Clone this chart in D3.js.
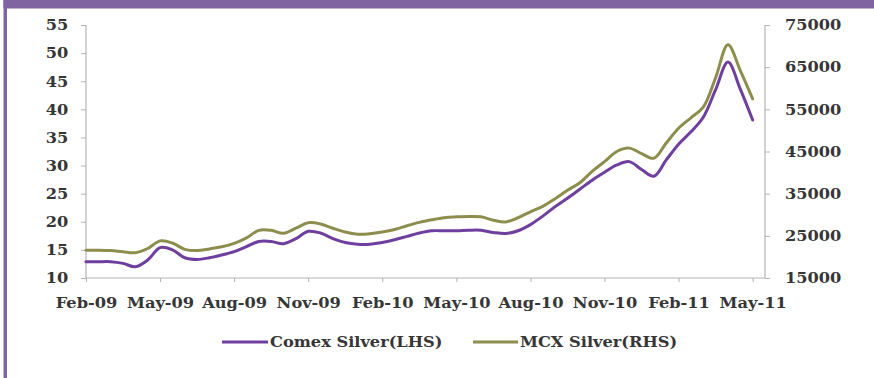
<!DOCTYPE html>
<html>
<head>
<meta charset="utf-8">
<script src="https://cdn.jsdelivr.net/npm/d3@7"></script>
<style>
  html, body { margin: 0; padding: 0; background: #ffffff; }
  svg { display: block; }
  text { font-family: "DejaVu Serif", serif; font-weight: bold; fill: #363636; }
</style>
</head>
<body>
<svg id="chart" width="874" height="378"></svg>
<script>
// Month offsets counted from Feb-09 (0 = Feb-09, 0.5 = mid-Feb-09, ...)
const months = [
  0, 0.5, 1, 1.5, 2, 2.5, 3, 3.5, 4, 4.5, 5, 5.5, 6, 6.5, 7, 7.5, 8, 8.5, 9, 9.5,
  10, 10.5, 11, 11.5, 12, 12.5, 13, 13.5, 14, 14.5, 15, 15.5, 16, 16.5, 17, 17.5,
  18, 18.5, 19, 19.5, 20, 20.5, 21, 21.5, 22, 22.5, 23, 23.5, 24, 24.5, 25, 25.5,
  26, 26.5, 27
];

// Comex Silver, USD/oz (left axis)
const comexSilver = [
  12.9, 12.9, 12.9, 12.6, 12.0, 13.2, 15.4, 15.0, 13.6, 13.3, 13.6, 14.1, 14.7, 15.6,
  16.5, 16.5, 16.1, 17.0, 18.3, 18.0, 17.0, 16.3, 16.0, 16.0, 16.3, 16.8, 17.4, 18.0,
  18.4, 18.4, 18.4, 18.5, 18.5, 18.1, 17.9, 18.4, 19.5, 21.0, 22.7, 24.2, 25.8, 27.4,
  28.8, 30.1, 30.7, 29.3, 28.1, 31.0, 33.8, 36.0, 38.6, 43.5, 48.4, 43.6, 38.1
];

// MCX Silver, INR/kg (right axis)
const mcxSilver = [
  21600, 21600, 21500, 21200, 21000, 22000, 23800, 23300, 21800, 21500, 21900, 22400,
  23200, 24500, 26300, 26300, 25600, 26800, 28100, 27800, 26800, 25900, 25400, 25500,
  25900, 26500, 27400, 28200, 28800, 29300, 29500, 29600, 29500, 28700, 28300, 29300,
  30700, 32000, 33800, 35800, 37600, 40300, 42600, 45000, 45800, 44500, 43400, 47000,
  50500, 53000, 55500, 62500, 70300, 64200, 57500
];

const tickMonths = [0, 3, 6, 9, 12, 15, 18, 21, 24, 27];
const tickLabels = ["Feb-09", "May-09", "Aug-09", "Nov-09", "Feb-10", "May-10",
                    "Aug-10", "Nov-10", "Feb-11", "May-11"];
const leftTicks = [10, 15, 20, 25, 30, 35, 40, 45, 50, 55];
const rightTicks = [15000, 25000, 35000, 45000, 55000, 65000, 75000];

const seriesNames = ["Comex Silver(LHS)", "MCX Silver(RHS)"];
const seriesColors = ["#6e3f9f", "#8d8e4e"];

const svg = d3.select("#chart");
const W = 874, H = 378;
const plot = { left: 86, right: 765, top: 25, bottom: 278 };
const fontSize = 15;
const stretch = 1.08; // slightly widened lettering

// Frame: purple band along the top and a thin rule down the left side
svg.append("rect").attr("x", 3.5).attr("y", 0).attr("width", W - 3.5).attr("height", 8.5)
  .attr("fill", "#8064a2");
svg.append("rect").attr("x", 3.5).attr("y", 0).attr("width", 3.5).attr("height", H)
  .attr("fill", "#8064a2");

const x = d3.scaleLinear().domain([0, 27.5]).range([plot.left, plot.right]);
const yL = d3.scaleLinear().domain([10, 55]).range([plot.bottom, plot.top]);
const yR = d3.scaleLinear().domain([15000, 75000]).range([plot.bottom, plot.top]);

const axisColor = "#b4b4b4";

// Left axis
const gL = svg.append("g").attr("transform", `translate(${plot.left},0)`)
  .call(d3.axisLeft(yL).tickValues(leftTicks).tickSize(5).tickPadding(11.5));
// Right axis
const gR = svg.append("g").attr("transform", `translate(${plot.right},0)`)
  .call(d3.axisRight(yR).tickValues(rightTicks).tickFormat(d3.format("d"))
    .tickSize(5).tickPadding(13.5));
// Bottom axis
const gB = svg.append("g").attr("transform", `translate(0,${plot.bottom})`)
  .call(d3.axisBottom(x).tickValues(tickMonths)
    .tickFormat((d, i) => tickLabels[i]).tickSize(4).tickPadding(15.5));

[gL, gR, gB].forEach(g => {
  g.selectAll(".domain").attr("stroke", axisColor).attr("stroke-width", 1.2);
  g.selectAll(".tick line").attr("stroke", axisColor);
  g.selectAll("text").attr("font-size", fontSize).attr("font-family", "DejaVu Serif, serif")
    .attr("font-weight", "bold").attr("fill", "#363636")
    .attr("transform", `scale(${stretch},1)`);
});
gL.select(".domain").attr("d", `M0,${plot.bottom}V${plot.top}`);
gR.select(".domain").attr("d", `M0,${plot.bottom}V${plot.top}`);
gB.select(".domain").attr("d", `M${plot.left},0H${plot.right}`);

// Lines
const lineL = d3.line().x((d, i) => x(months[i])).y(d => yL(d)).curve(d3.curveCatmullRom.alpha(0.5));
const lineR = d3.line().x((d, i) => x(months[i])).y(d => yR(d)).curve(d3.curveCatmullRom.alpha(0.5));

svg.append("path").datum(mcxSilver).attr("d", lineR)
  .attr("fill", "none").attr("stroke", seriesColors[1]).attr("stroke-width", 3)
  .attr("stroke-linejoin", "round").attr("stroke-linecap", "round");
svg.append("path").datum(comexSilver).attr("d", lineL)
  .attr("fill", "none").attr("stroke", seriesColors[0]).attr("stroke-width", 3)
  .attr("stroke-linejoin", "round").attr("stroke-linecap", "round");

// Legend
const legendItems = [
  { x1: 222, x2: 268, tx: 270 },
  { x1: 473, x2: 518, tx: 520 }
];
const legend = svg.append("g");
legendItems.forEach((it, i) => {
  legend.append("line").attr("x1", it.x1).attr("x2", it.x2).attr("y1", 342).attr("y2", 342)
    .attr("stroke", seriesColors[i]).attr("stroke-width", 3);
  legend.append("text").attr("x", it.tx / stretch).attr("y", 347).attr("font-size", fontSize)
    .attr("transform", `scale(${stretch},1)`)
    .text(seriesNames[i]);
});
</script>
</body>
</html>
